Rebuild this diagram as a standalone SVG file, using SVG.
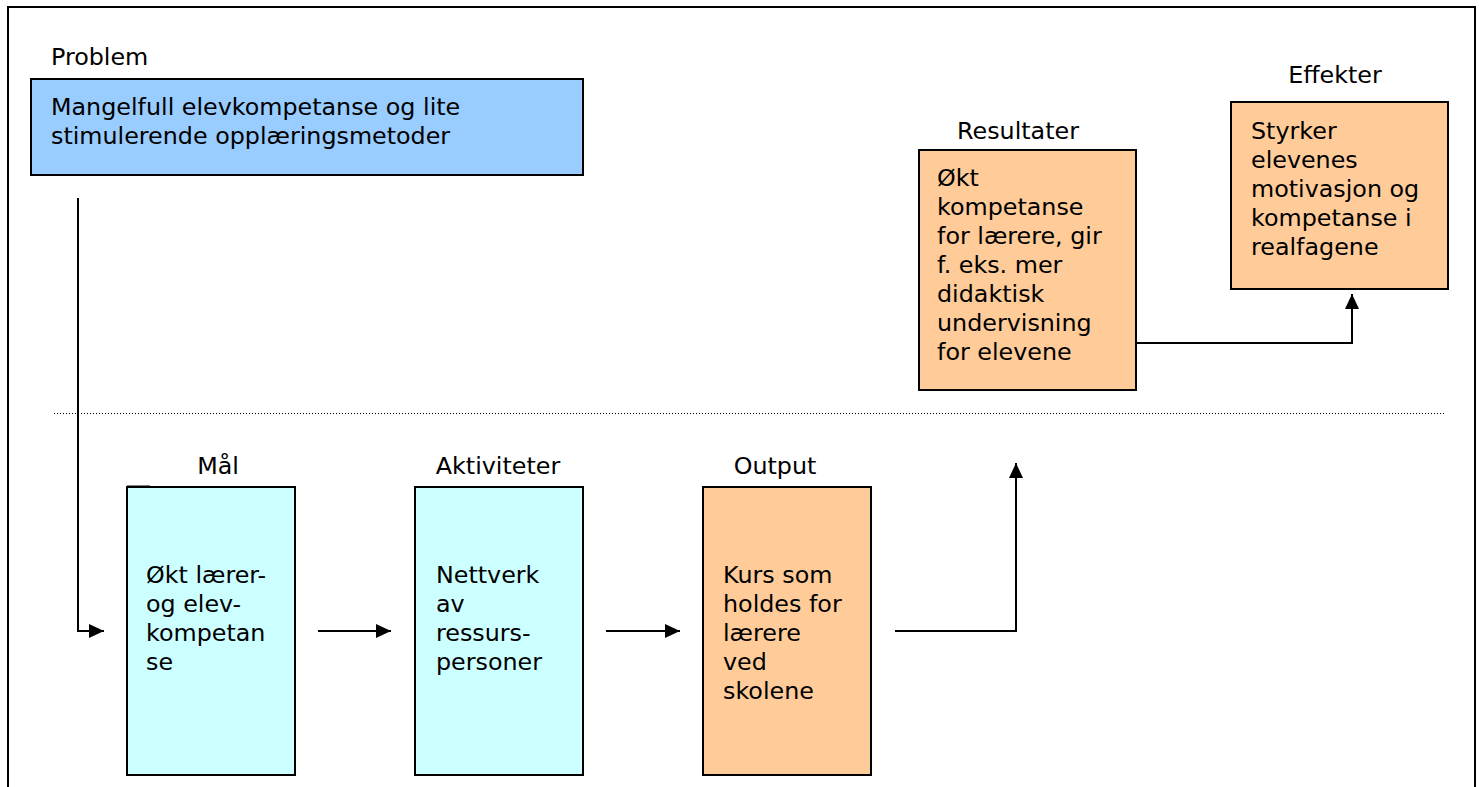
<svg xmlns="http://www.w3.org/2000/svg" width="1479" height="787" viewBox="0 0 1479 787">
  <style>
    .t { font-family: "DejaVu Sans", Verdana, sans-serif; font-size: 23.8px; fill: #000; }
    .box { stroke: #000; stroke-width: 2; }
    .blue { fill: #99CCFF; }
    .cyan { fill: #CCFFFF; }
    .orange { fill: #FFCC99; }
    .conn { fill: none; stroke: #000; stroke-width: 2; }
  </style>
  <defs>
    <marker id="arrow" viewBox="0 0 15 14" refX="15" refY="7" markerWidth="15" markerHeight="14" markerUnits="userSpaceOnUse" orient="auto">
      <path d="M0,0 L15,7 L0,14 Z" fill="#000"/>
    </marker>
  </defs>
  <rect width="1479" height="787" fill="#fff"/>

  <!-- outer frame -->
  <path d="M8,787 V7 H1475 V787" fill="none" stroke="#000" stroke-width="2"/>

  <!-- dotted divider -->
  <line x1="54" y1="413.5" x2="1446" y2="413.5" stroke="#000" stroke-width="1" stroke-dasharray="1,2"/>

  <g id="problem">
    <text class="t" x="51" y="65">Problem</text>
    <rect class="box blue" x="31" y="79" width="552" height="96"/>
    <text class="t" x="51" y="115">Mangelfull elevkompetanse og lite</text>
    <text class="t" x="51" y="144">stimulerende opplæringsmetoder</text>
  </g>

  <g id="maal">
    <text class="t" x="218" y="474" text-anchor="middle">Mål</text>
    <rect class="box cyan" x="127" y="487" width="168" height="288"/>
    <line x1="127" y1="486" x2="150" y2="486" stroke="#000" stroke-width="1"/>
    <text class="t" x="146" y="583">Økt lærer-</text>
    <text class="t" x="146" y="612">og elev-</text>
    <text class="t" x="146" y="641">kompetan</text>
    <text class="t" x="146" y="670">se</text>
  </g>

  <g id="aktiviteter">
    <text class="t" x="498" y="474" text-anchor="middle">Aktiviteter</text>
    <rect class="box cyan" x="415" y="487" width="168" height="288"/>
    <text class="t" x="436" y="583">Nettverk</text>
    <text class="t" x="436" y="612">av</text>
    <text class="t" x="436" y="641">ressurs-</text>
    <text class="t" x="436" y="670">personer</text>
  </g>

  <g id="output">
    <text class="t" x="775" y="474" text-anchor="middle">Output</text>
    <rect class="box orange" x="703" y="487" width="168" height="288"/>
    <text class="t" x="723" y="583">Kurs som</text>
    <text class="t" x="723" y="612">holdes for</text>
    <text class="t" x="723" y="641">lærere</text>
    <text class="t" x="723" y="670">ved</text>
    <text class="t" x="723" y="699">skolene</text>
  </g>

  <g id="resultater">
    <text class="t" x="1018" y="139" text-anchor="middle">Resultater</text>
    <rect class="box orange" x="919" y="150" width="217" height="240"/>
    <text class="t" x="937" y="186">Økt</text>
    <text class="t" x="937" y="215">kompetanse</text>
    <text class="t" x="937" y="244">for lærere, gir</text>
    <text class="t" x="937" y="273">f. eks. mer</text>
    <text class="t" x="937" y="302">didaktisk</text>
    <text class="t" x="937" y="331">undervisning</text>
    <text class="t" x="937" y="360">for elevene</text>
  </g>

  <g id="effekter">
    <text class="t" x="1335" y="83" text-anchor="middle">Effekter</text>
    <rect class="box orange" x="1231" y="102" width="217" height="187"/>
    <text class="t" x="1251" y="139">Styrker</text>
    <text class="t" x="1251" y="168">elevenes</text>
    <text class="t" x="1251" y="197">motivasjon og</text>
    <text class="t" x="1251" y="226">kompetanse i</text>
    <text class="t" x="1251" y="255">realfagene</text>
  </g>

  <g id="connectors">
    <path class="conn" d="M78,198 V631 H104" marker-end="url(#arrow)"/>
    <path class="conn" d="M318,631 H391" marker-end="url(#arrow)"/>
    <path class="conn" d="M606,631 H680" marker-end="url(#arrow)"/>
    <path class="conn" d="M895,631 H1016 V463" marker-end="url(#arrow)"/>
    <path class="conn" d="M1136,343 H1352 V294" marker-end="url(#arrow)"/>
  </g>
</svg>
